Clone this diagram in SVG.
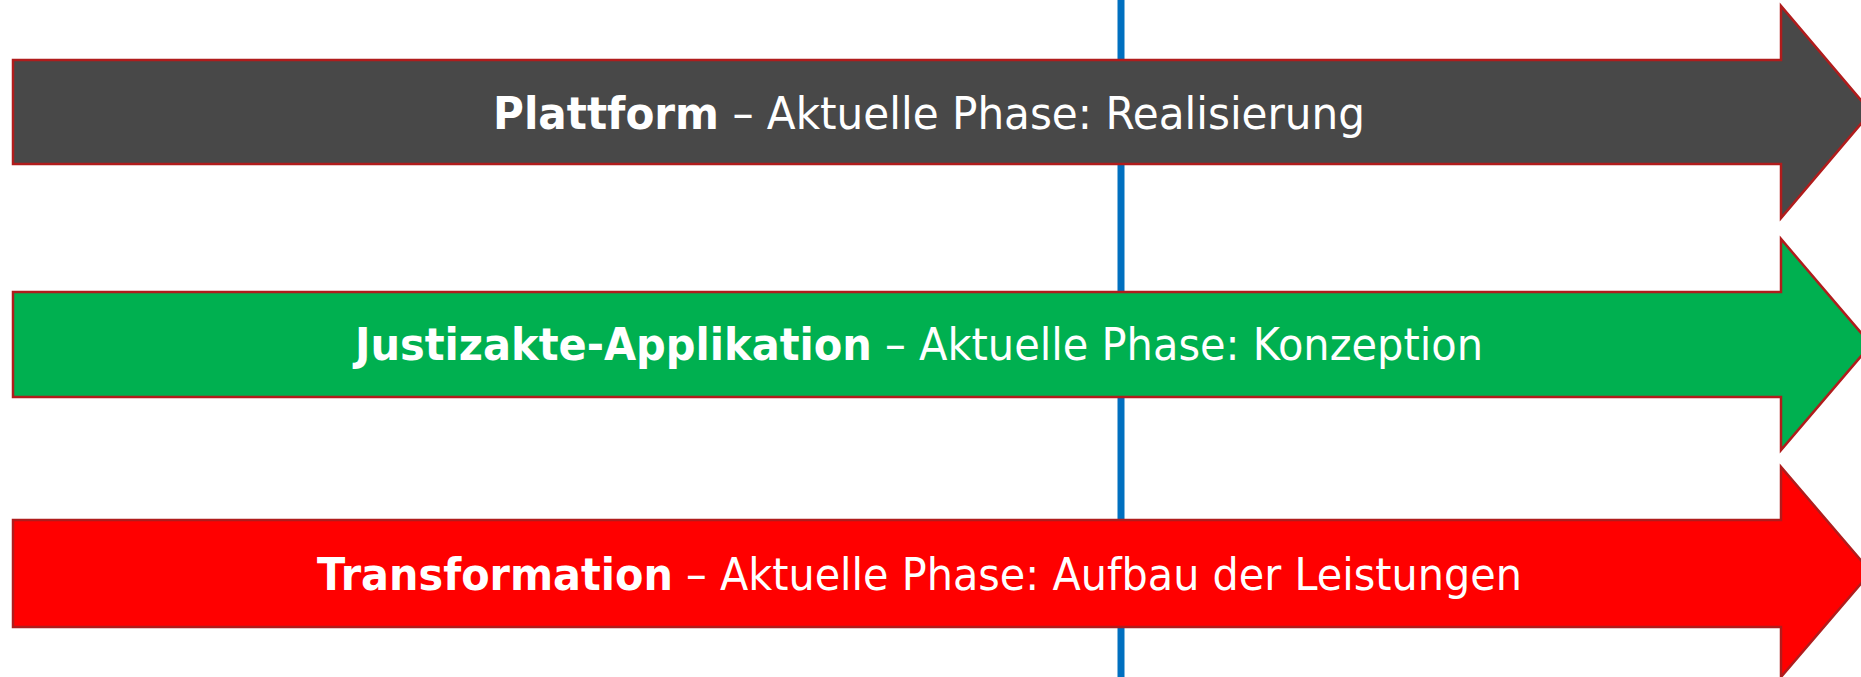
<svg xmlns="http://www.w3.org/2000/svg" width="1861" height="677" viewBox="0 0 1861 677">
<style>
.arrow{stroke:#B01C1C;stroke-width:2.5;stroke-linejoin:miter}
.lbl{font-family:"DejaVu Sans","Liberation Sans",sans-serif;font-size:44px;fill:#FFFFFF}
.b{font-weight:bold}
</style>
<rect width="1861" height="677" fill="#FFFFFF"/>
<g id="connectors">
<line x1="1121" y1="0" x2="1121" y2="677" stroke="#0070C0" stroke-width="7"/>
</g>
<g id="plattform">
<polygon class="arrow" fill="#484848" points="13,60 1781,60 1781,6 1871,112 1781,218 1781,164 13,164"/>
<text class="lbl" x="493" y="129" textLength="872" lengthAdjust="spacingAndGlyphs"><tspan class="b">Plattform</tspan> – Aktuelle Phase: Realisierung</text>
</g>
<g id="justizakte">
<polygon class="arrow" fill="#00B050" points="13,292 1781,292 1781,239 1871,344.5 1781,450 1781,397 13,397"/>
<text class="lbl" x="355" y="360" textLength="1128" lengthAdjust="spacingAndGlyphs"><tspan class="b">Justizakte-Applikation</tspan> – Aktuelle Phase: Konzeption</text>
</g>
<g id="transformation">
<polygon class="arrow" fill="#FF0000" points="13,520 1781,520 1781,467 1871,572 1781,677 1781,627 13,627"/>
<text class="lbl" x="317" y="590" textLength="1205" lengthAdjust="spacingAndGlyphs"><tspan class="b">Transformation</tspan> – Aktuelle Phase: Aufbau der Leistungen</text>
</g>
</svg>
